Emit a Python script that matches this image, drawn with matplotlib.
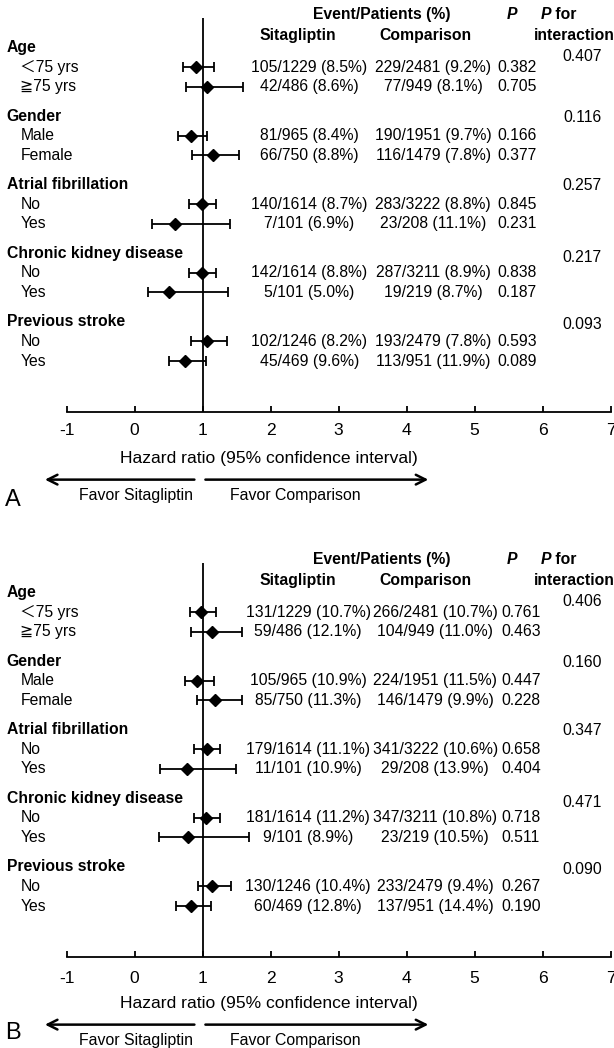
import matplotlib.pyplot as plt
import numpy as np

plt.rcParams['font.family'] = ['Liberation Sans', 'DejaVu Sans', 'Noto Sans CJK SC']

# subgroup labels
groups = ['Age', 'Gender', 'Atrial fibrillation', 'Chronic kidney disease', 'Previous stroke']
subgroups = ['\uff1c75 yrs', '\u226775 yrs', 'Male', 'Female', 'No', 'Yes', 'No', 'Yes', 'No', 'Yes']
xticks = [-1, 0, 1, 2, 3, 4, 5, 6, 7]

# panel A
a_hr = [0.90, 1.07, 0.83, 1.15, 0.99, 0.60, 0.99, 0.51, 1.07, 0.74]
a_lo = [0.71, 0.75, 0.64, 0.84, 0.80, 0.26, 0.80, 0.20, 0.83, 0.51]
a_hi = [1.16, 1.60, 1.07, 1.53, 1.19, 1.40, 1.19, 1.37, 1.36, 1.05]
a_sita_ev = [105, 42, 81, 66, 140, 7, 142, 5, 102, 45]
a_sita_n = [1229, 486, 965, 750, 1614, 101, 1614, 101, 1246, 469]
a_sita_pct = [8.5, 8.6, 8.4, 8.8, 8.7, 6.9, 8.8, 5.0, 8.2, 9.6]
a_comp_ev = [229, 77, 190, 116, 283, 23, 287, 19, 193, 113]
a_comp_n = [2481, 949, 1951, 1479, 3222, 208, 3211, 219, 2479, 951]
a_comp_pct = [9.2, 8.1, 9.7, 7.8, 8.8, 11.1, 8.9, 8.7, 7.8, 11.9]
a_p = [0.382, 0.705, 0.166, 0.377, 0.845, 0.231, 0.838, 0.187, 0.593, 0.089]
a_p_int = [0.407, 0.116, 0.257, 0.217, 0.093]

# panel B
b_hr = [0.98, 1.14, 0.91, 1.18, 1.06, 0.77, 1.05, 0.79, 1.14, 0.83]
b_lo = [0.81, 0.83, 0.74, 0.92, 0.88, 0.38, 0.87, 0.36, 0.93, 0.61]
b_hi = [1.20, 1.58, 1.16, 1.58, 1.26, 1.49, 1.26, 1.68, 1.42, 1.13]
b_sita_ev = [131, 59, 105, 85, 179, 11, 181, 9, 130, 60]
b_sita_n = [1229, 486, 965, 750, 1614, 101, 1614, 101, 1246, 469]
b_sita_pct = [10.7, 12.1, 10.9, 11.3, 11.1, 10.9, 11.2, 8.9, 10.4, 12.8]
b_comp_ev = [266, 104, 224, 146, 341, 29, 347, 23, 233, 137]
b_comp_n = [2481, 949, 1951, 1479, 3222, 208, 3211, 219, 2479, 951]
b_comp_pct = [10.7, 11.0, 11.5, 9.9, 10.6, 13.9, 10.8, 10.5, 9.4, 14.4]
b_p = [0.761, 0.463, 0.447, 0.228, 0.658, 0.404, 0.718, 0.511, 0.267, 0.190]
b_p_int = [0.406, 0.160, 0.347, 0.471, 0.090]

FS = 11.3


def draw_panel(ax, letter, letter_y, hr, lo, hi, s_ev, s_n, s_pct, c_ev, c_n, c_pct, p, p_int,
               col_s, col_c, col_p, tick_pad):
    head_y = np.arange(len(groups)) * 3.5
    row_y = np.concatenate([[h + 1, h + 2] for h in head_y])
    hr = np.array(hr)

    ax.set_xlim(-1.98, 7.05)
    ax.set_ylim(18.6, -1.5)

    ax.axvline(1, color='black', lw=1.3)
    ax.errorbar(hr, row_y, xerr=[hr - np.array(lo), np.array(hi) - hr], fmt='D',
                color='black', ms=6, capsize=3.5, elinewidth=1.3, capthick=1.3)

    for k, g in enumerate(groups):
        ax.text(-1.88, head_y[k], g, fontsize=FS, fontweight='bold', va='center')
        off = [0.45, 0.1, 0.05, 0.2, 0.15][k]
        ax.text(6.58, head_y[k] + off, f"{p_int[k]:.3f}", fontsize=FS, ha='center', va='center')
    for i, y in enumerate(row_y):
        ax.text(-1.68, y, subgroups[i], fontsize=FS, va='center')
        ax.text(col_s, y, f"{s_ev[i]}/{s_n[i]} ({s_pct[i]:.1f}%)", fontsize=FS, ha='center', va='center')
        ax.text(col_c, y, f"{c_ev[i]}/{c_n[i]} ({c_pct[i]:.1f}%)", fontsize=FS, ha='center', va='center')
        ax.text(col_p, y, f"{p[i]:.3f}", fontsize=FS, ha='left', va='center')

    # column headers
    ax.text(3.64, -1.7, 'Event/Patients (%)', fontsize=FS, fontweight='bold', ha='center', va='center')
    ax.text(5.55, -1.7, 'P', fontsize=FS, fontweight='bold', fontstyle='italic', ha='center', va='center')
    ax.text(6.12, -1.7, 'P', fontsize=FS, fontweight='bold', fontstyle='italic', ha='right', va='center')
    ax.text(6.12, -1.7, ' for', fontsize=FS, fontweight='bold', ha='left', va='center')
    ax.text(2.40, -0.63, 'Sitagliptin', fontsize=FS, fontweight='bold', ha='center', va='center')
    ax.text(4.28, -0.63, 'Comparison', fontsize=FS, fontweight='bold', ha='center', va='center')
    ax.text(6.46, -0.63, 'interaction', fontsize=FS, fontweight='bold', ha='center', va='center')

    # axis
    for s in ['left', 'top', 'right']:
        ax.spines[s].set_visible(False)
    ax.spines['bottom'].set_bounds(-1, 7)
    ax.spines['bottom'].set_linewidth(1.3)
    ax.set_yticks([])
    ax.set_xticks(xticks)
    ax.set_xticklabels([str(t) for t in xticks])
    ax.tick_params(axis='x', direction='in', length=4, width=1.3, labelsize=12.6, pad=tick_pad)

    ax.text(1.98, 20.95, 'Hazard ratio (95% confidence interval)', fontsize=12.6,
            ha='center', va='center', clip_on=False)
    ax.annotate('', xy=(-1.36, 22.05), xytext=(0.92, 22.05), annotation_clip=False,
                arrowprops=dict(arrowstyle='->,head_length=0.7,head_width=0.35', lw=1.8, color='black'))
    ax.annotate('', xy=(4.36, 22.05), xytext=(1.0, 22.05), annotation_clip=False,
                arrowprops=dict(arrowstyle='->,head_length=0.7,head_width=0.35', lw=1.8, color='black'))
    ax.text(0.02, 22.85, 'Favor Sitagliptin', fontsize=11.4, ha='center', va='center', clip_on=False)
    ax.text(2.37, 22.85, 'Favor Comparison', fontsize=11.4, ha='center', va='center', clip_on=False)
    ax.text(-1.9, letter_y, letter, fontsize=17, ha='left', va='center', clip_on=False)


fig = plt.figure(figsize=(6.14, 10.48), dpi=100)
ax_a = fig.add_axes([0, 1 - 412 / 1048, 1, 394 / 1048])
ax_b = fig.add_axes([0, 1 - 957 / 1048, 1, 394 / 1048])

draw_panel(ax_a, 'A', 23.1, a_hr, a_lo, a_hi, a_sita_ev, a_sita_n, a_sita_pct,
           a_comp_ev, a_comp_n, a_comp_pct, a_p, a_p_int, 2.57, 4.39, 5.34, 8)
draw_panel(ax_b, 'B', 22.5, b_hr, b_lo, b_hi, b_sita_ev, b_sita_n, b_sita_pct,
           b_comp_ev, b_comp_n, b_comp_pct, b_p, b_p_int, 2.55, 4.42, 5.40, 10)

fig.savefig('out.png', dpi=100)
